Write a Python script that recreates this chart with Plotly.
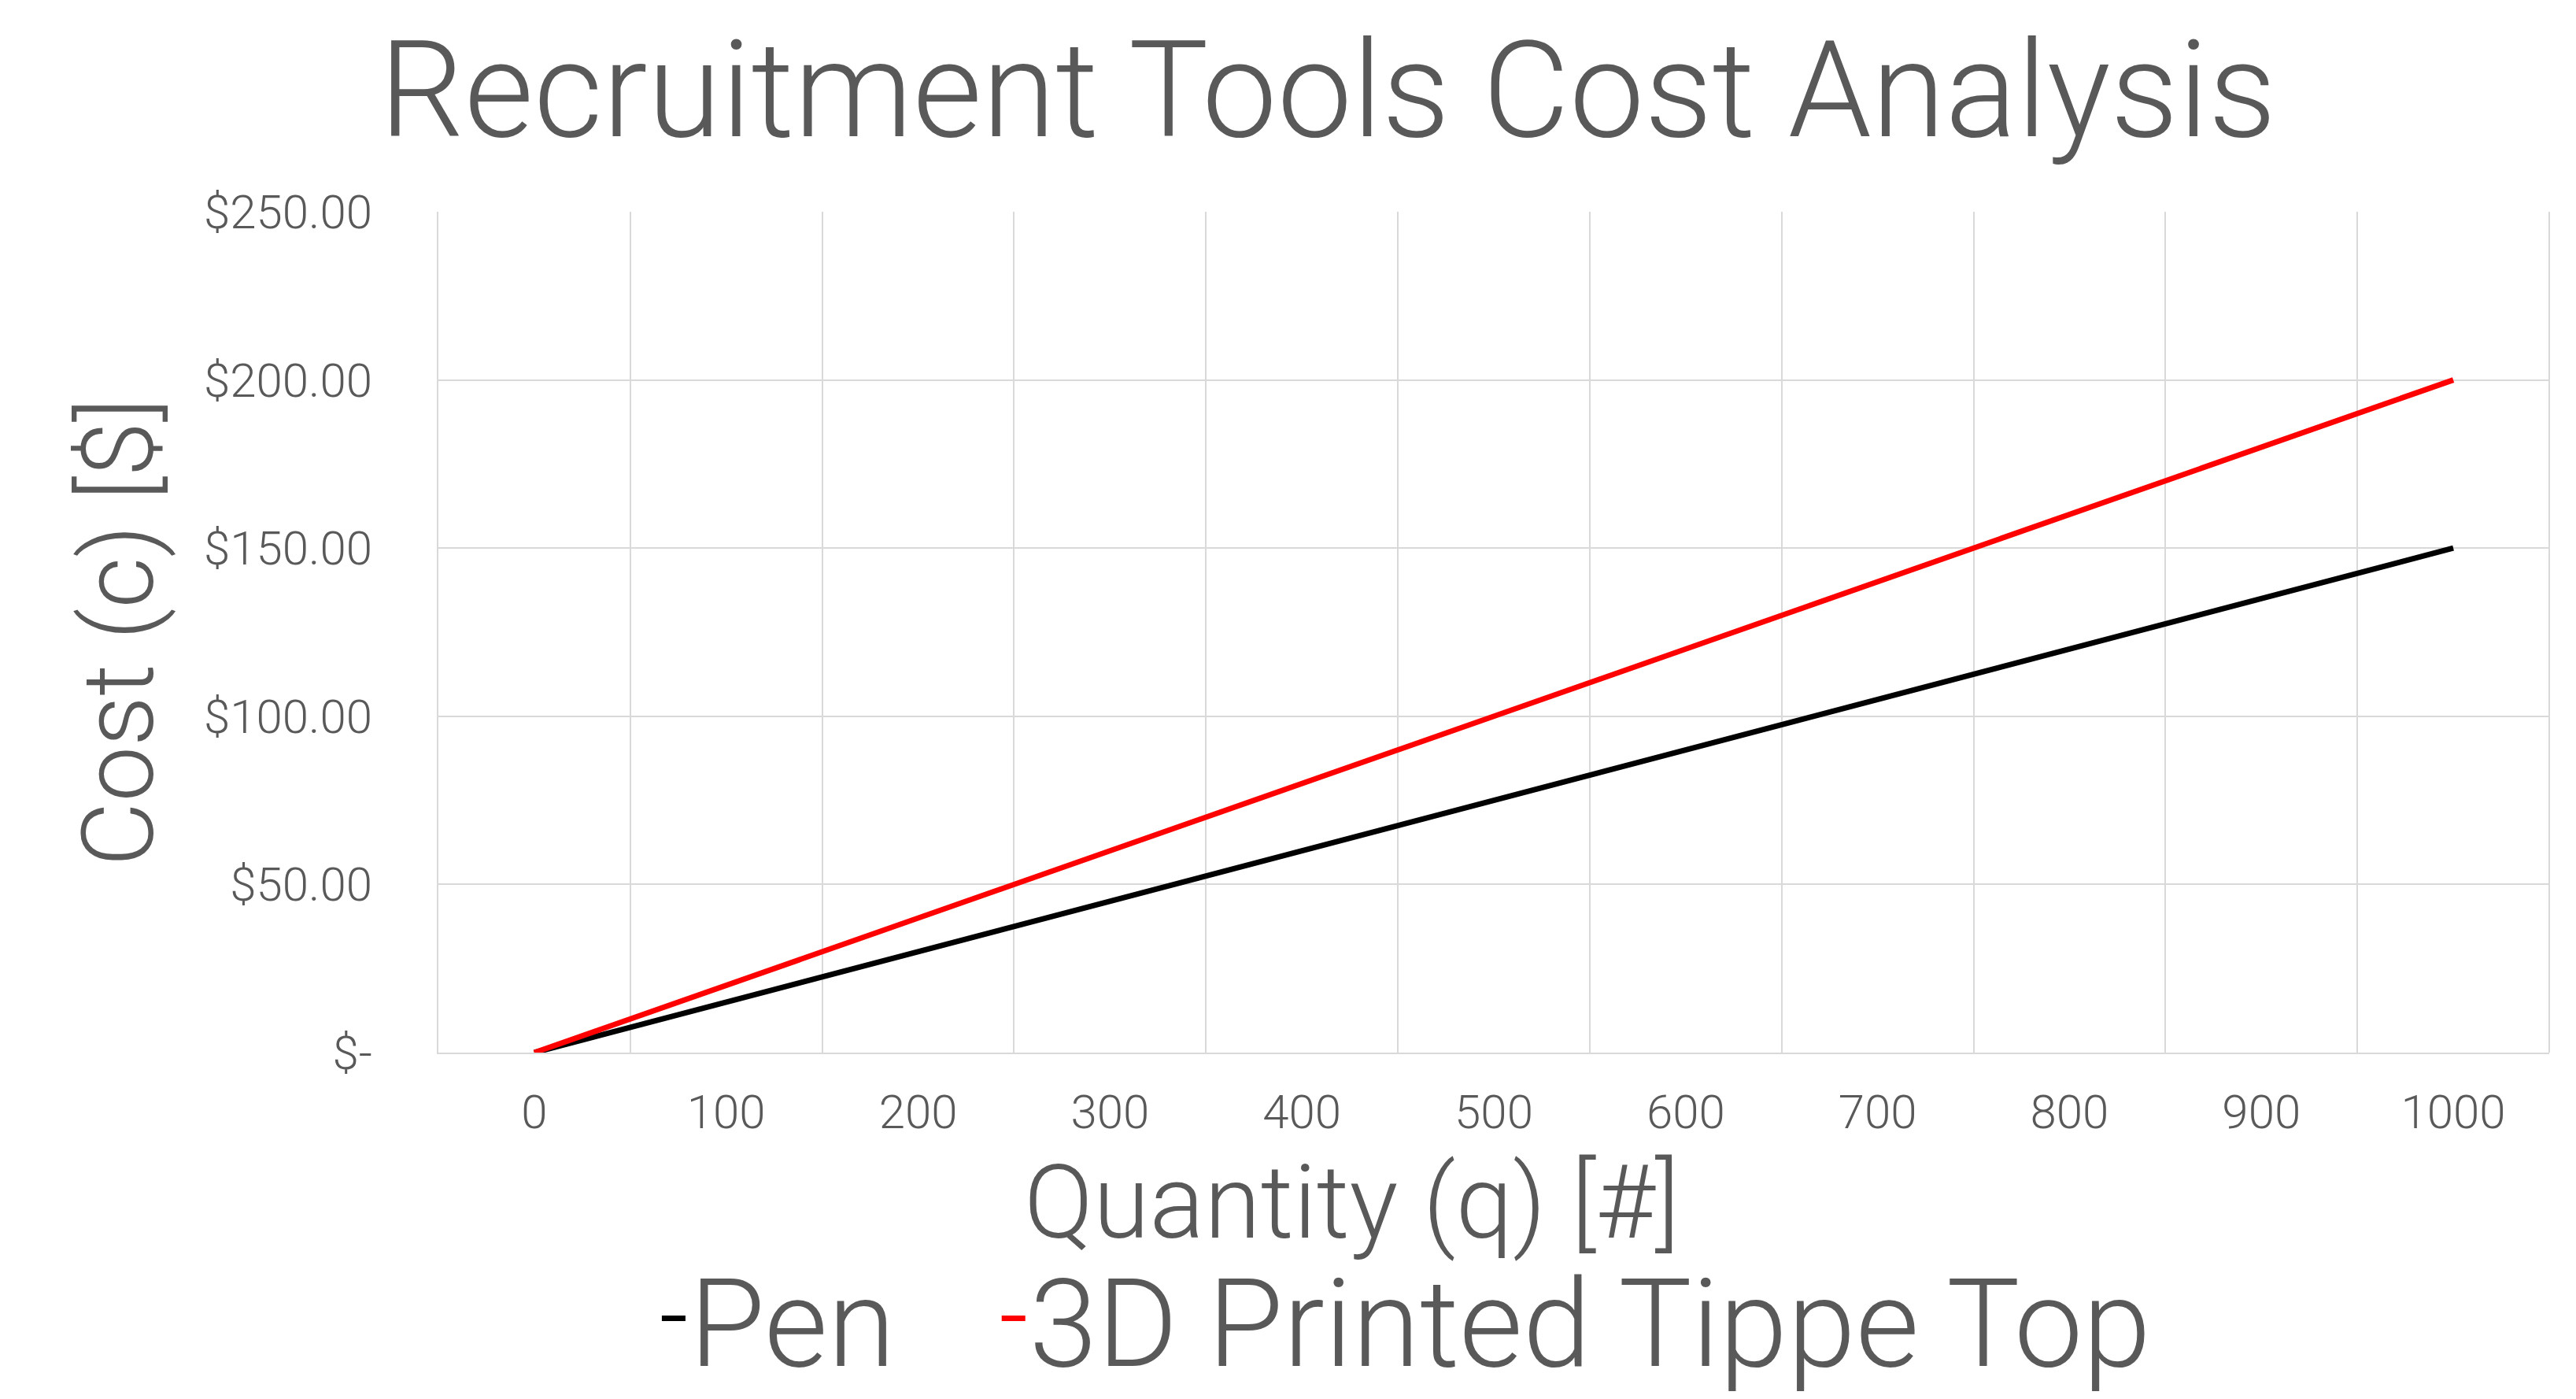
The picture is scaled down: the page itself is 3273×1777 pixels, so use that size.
import plotly.graph_objects as go

quantity = [0, 100, 200, 300, 400, 500, 600, 700, 800, 900, 1000]
pen_cost = [0, 15, 30, 45, 60, 75, 90, 105, 120, 135, 150]
tippe_cost = [0, 20, 40, 60, 80, 100, 120, 140, 160, 180, 200]
y_tickvals = [0, 50, 100, 150, 200, 250]
y_ticktext = ["$-", "$50.00", "$100.00", "$150.00", "$200.00", "$250.00"]

FONT = "Roboto"
WT = 300
GREY = "#595959"
GRID = "#d9d9d9"

fig = go.Figure()
fig.add_trace(go.Scatter(x=quantity, y=pen_cost, mode="lines", name="Pen",
                         line=dict(color="#000000", width=7), legend="legend"))
fig.add_trace(go.Scatter(x=quantity, y=tippe_cost, mode="lines", name="3D Printed Tippe Top",
                         line=dict(color="#ff0000", width=7), legend="legend2"))

W, H = 3273, 1777
legfont = dict(size=156, color=GREY, family=FONT, weight=WT)
fig.update_layout(
    width=W, height=H,
    paper_bgcolor="white", plot_bgcolor="white",
    margin=dict(l=549, r=42, t=261, b=448, autoexpand=False),
    font=dict(family=FONT, color=GREY, weight=WT),
    title=dict(text="Recruitment Tools Cost Analysis", x=0.513, xanchor="center",
               y=0.974, yanchor="top", yref="container",
               font=dict(size=170, color=GREY, family=FONT, weight=WT)),
    showlegend=True,
    legend=dict(orientation="h", x=0.104, xanchor="left", y=-0.215, yanchor="top",
                font=legfont, bgcolor="rgba(0,0,0,0)", itemwidth=30),
    legend2=dict(orientation="h", x=0.265, xanchor="left", y=-0.215, yanchor="top",
                 font=legfont, bgcolor="rgba(0,0,0,0)", itemwidth=30),
)
fig.update_xaxes(
    range=[-50, 1050], tickvals=quantity, ticktext=[str(q) for q in quantity],
    showgrid=False, zeroline=False,
    showline=True, linecolor=GRID, linewidth=2, mirror=False,
    ticks="outside", ticklen=22, tickcolor="rgba(0,0,0,0)",
    tickfont=dict(size=60, color=GREY, family=FONT, weight=WT),
    minor=dict(tickvals=[x + 50 for x in [-100] + quantity], showgrid=True,
               gridcolor=GRID, gridwidth=2),
)
fig.update_yaxes(
    range=[0, 250], tickvals=y_tickvals, ticktext=y_ticktext,
    showgrid=True, gridcolor=GRID, gridwidth=2, zeroline=False,
    showline=True, linecolor=GRID, linewidth=2,
    ticks="outside", ticklen=70, tickcolor="rgba(0,0,0,0)",
    tickfont=dict(size=60, color=GREY, family=FONT, weight=WT),
    title=dict(text="Cost (c) [$]", font=dict(size=126, color=GREY, family=FONT, weight=WT), standoff=22),
)
# x-axis title as annotation (offset left of plot centre as in reference)
fig.add_annotation(text="Quantity (q) [#]", xref="paper", yref="paper",
                   x=(819 * 2.087 - 549) / 2682, y=-0.178, xanchor="center", yanchor="middle",
                   showarrow=False, font=dict(size=130, color=GREY, family=FONT, weight=WT))
fig.add_shape(type="line", xref="paper", yref="paper", x0=1, x1=1, y0=0, y1=1,
              line=dict(color=GRID, width=2), layer="below")
fig.write_html("out.html")
